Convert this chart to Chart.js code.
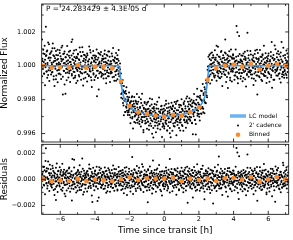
<!DOCTYPE html>
<html lang="en">
<head>
<meta charset="UTF-8">
<title>Transit light curve</title>
<style>
  html, body { margin: 0; padding: 0; background: #fff; }
  .wrap { position: relative; width: 293px; height: 240px; }
  #fluxChart { position: absolute; left: 0; top: 0; }
  #resChart { position: absolute; left: 0; top: 140px; }
</style>
</head>
<body>
<div class="wrap">
  <canvas id="fluxChart" width="293" height="146"></canvas>
  <canvas id="resChart" width="293" height="100"></canvas>
</div>
<script src="https://cdn.jsdelivr.net/npm/chart.js@4.4.1/dist/chart.umd.min.js"></script>
<script>
// 2' cadence points of the two folded transits: time since mid-transit in units of 0.01 h
const cadenceTime = [
  -705,-703,-700,-698,-695,-693,-690,-688,-685,-683,-680,-678,-675,-673,-670,-668,-665,-663,-660,-658,
  -655,-653,-650,-648,-645,-643,-640,-638,-635,-633,-630,-628,-625,-623,-620,-618,-615,-613,-610,-608,
  -605,-603,-600,-598,-595,-593,-590,-588,-585,-583,-580,-578,-575,-573,-570,-568,-565,-563,-560,-558,
  -555,-553,-550,-548,-545,-543,-540,-538,-535,-533,-530,-528,-525,-523,-520,-518,-515,-513,-510,-508,
  -505,-503,-500,-498,-495,-493,-490,-488,-485,-483,-480,-478,-475,-473,-470,-468,-465,-463,-460,-458,
  -455,-453,-450,-448,-445,-443,-440,-438,-435,-433,-430,-428,-425,-423,-420,-418,-415,-413,-410,-408,
  -405,-403,-400,-398,-395,-393,-390,-388,-385,-383,-380,-378,-375,-373,-370,-368,-365,-363,-360,-358,
  -355,-353,-350,-348,-345,-343,-340,-338,-335,-333,-330,-328,-325,-323,-320,-318,-315,-313,-310,-308,
  -305,-303,-300,-298,-295,-293,-290,-288,-285,-283,-280,-278,-275,-273,-270,-268,-265,-263,-260,-258,
  -255,-253,-250,-248,-245,-243,-240,-238,-235,-233,-230,-228,-225,-223,-220,-218,-215,-213,-210,-208,
  -205,-203,-200,-198,-195,-193,-190,-188,-185,-183,-180,-178,-175,-173,-170,-168,-165,-163,-160,-158,
  -155,-153,-150,-148,-145,-143,-140,-138,-135,-133,-130,-128,-125,-123,-120,-118,-115,-113,-110,-108,
  -105,-103,-100,-98,-95,-93,-90,-88,-85,-83,-80,-78,-75,-73,-70,-68,-65,-63,-60,-58,
  -55,-53,-50,-48,-45,-43,-40,-38,-35,-33,-30,-28,-25,-23,-20,-18,-15,-13,-10,-8,
  -5,-3,0,2,5,7,10,12,15,17,20,22,25,27,30,32,35,37,40,42,
  45,47,50,52,55,57,60,62,65,67,70,72,75,77,80,82,85,87,90,92,
  95,97,100,102,105,107,110,112,115,117,120,122,125,127,130,132,135,137,140,142,
  145,147,150,152,155,157,160,162,165,167,170,172,175,177,180,182,185,187,190,192,
  195,197,200,202,205,207,210,212,215,217,220,222,225,227,230,232,235,237,240,242,
  245,247,250,252,255,257,260,262,265,267,270,272,275,277,280,282,285,287,290,292,
  295,297,300,302,305,307,310,312,315,317,320,322,325,327,330,332,335,337,340,342,
  345,347,350,352,355,357,360,362,365,367,370,372,375,377,380,382,385,387,390,392,
  395,397,400,402,405,407,410,412,415,417,420,422,425,427,430,432,435,437,440,442,
  445,447,450,452,455,457,460,462,465,467,470,472,475,477,480,482,485,487,490,492,
  495,497,500,502,505,507,510,512,515,517,520,522,525,527,530,532,535,537,540,542,
  545,547,550,552,555,557,560,562,565,567,570,572,575,577,580,582,585,587,590,592,
  595,597,600,602,605,607,610,612,615,617,620,622,625,627,630,632,635,637,640,642,
  645,647,650,652,655,657,660,662,665,667,670,672,675,677,680,682,685,687,690,692,
  695,697,700,702,705,707,710,712,715
];
// normalized flux - 1, first transit, in units of 1e-5
const cadenceFlux1 = [
  155,28,-19,73,4,-46,118,36,-8,231,62,-33,91,17,-55,44,128,-12,70,-27,
  48,-15,86,9,-37,132,21,-61,57,103,-4,30,-80,64,12,-28,95,40,-47,19,
  -23,75,11,-52,42,108,-9,36,-170,69,15,-31,84,2,-165,51,-18,27,117,-40,
  33,-11,60,-44,22,89,-26,7,141,-58,38,-6,73,-35,16,52,-69,28,-14,95,
  -8,46,-30,67,13,-54,35,-17,82,4,-42,58,-21,110,-3,29,-76,41,-12,63,
  19,-37,54,-9,72,-48,26,8,-61,39,-19,93,-33,14,-85,47,2,-26,61,-44,
  31,-13,48,-66,20,57,-4,-180,36,-29,75,11,-45,24,-8,66,-39,13,-57,42,
  -15,38,-51,22,69,-27,5,44,-73,16,-38,60,-10,31,-62,85,-20,9,-46,27,
  12,-41,57,-18,34,-7,-64,26,48,-33,15,-88,40,-23,62,3,-49,30,-30,-40,
  -20,-91,-45,-166,-118,-102,-195,-145,-235,-120,-207,-161,-273,-198,-165,-248,-227,-183,-276,-206,
  -273,-186,-254,-216,-306,-239,-209,-276,-180,-302,-242,-266,-224,-332,-240,-293,-207,-280,-223,-320,
  -246,-316,-212,-290,-269,-343,-243,-286,-197,-315,-267,-334,-234,-303,-392,-254,-287,-219,-325,-269,
  -338,-268,-314,-218,-294,-330,-254,-378,-278,-237,-310,-264,-355,-285,-197,-327,-271,-424,-253,-309,
  -265,-354,-282,-319,-230,-336,-287,-371,-253,-308,-270,-345,-451,-278,-327,-239,-303,-258,-360,-275,
  -316,-253,-359,-287,-262,-325,-225,-343,-294,-382,-270,-311,-246,-334,-277,-367,-289,-422,-251,-319,
  -255,-308,-234,-341,-268,-299,-358,-251,-279,-325,-213,-316,-286,-350,-262,-303,-230,-335,-275,-382,
  -315,-235,-301,-253,-356,-265,-289,-219,-322,-271,-333,-252,-298,-193,-322,-270,-340,-241,-284,-227,
  -254,-316,-210,-278,-304,-241,-337,-221,-261,-285,-206,-274,-221,-319,-247,-406,-230,-259,-182,-282,
  -218,-284,-228,-301,-189,-241,-197,-281,-203,-149,-243,-206,-253,-162,-205,-126,-217,-155,-221,-103,
  -175,-87,-98,-4,-67,-3,64,-29,8,-51,33,-7,78,-42,15,-24,49,-60,3,37,
  -22,47,-9,118,-38,26,-61,14,55,-30,7,-74,39,-16,88,-47,21,-3,62,-35,
  16,-50,35,155,73,-27,8,-66,44,20,-39,57,-8,31,-85,12,96,-23,49,-14,
  -31,62,-18,41,-57,7,28,-40,54,235,-36,198,-75,22,24,-44,69,-20,37,-62,
  27,-43,14,59,-25,-70,38,-6,83,-31,45,-18,7,-54,195,21,-37,62,-10,33,
  -40,18,67,-29,6,-52,31,-13,49,-77,24,-4,90,-36,11,-58,40,-170,75,-9,
  35,-62,12,-27,54,-8,-45,29,-90,63,-16,38,-55,8,-31,46,-60,17,-23,52,
  -14,41,-36,72,9,-48,25,-3,57,-68,140,-25,44,-11,-82,33,6,120,-39,15,
  22,-30,51,-17,-59,36,4,68,-44,13,-23,79,-6,140,-50,27,-35,60,-12,-71,
  -25,46,-8,33,-54,19,72,-37,10
];
// normalized flux - 1, second transit, in units of 1e-5
const cadenceFlux2 = [
  -62,41,-8,95,23,-47,70,-115,12,58,-33,84,-71,5,137,-26,49,-90,31,-14,
  77,-52,18,-39,104,-6,63,-81,29,-120,45,-17,88,-58,11,36,-97,62,-24,9,
  -45,92,-13,56,-78,27,-3,119,-64,38,-29,73,-110,16,51,-42,6,-86,67,-21,
  14,-69,83,-31,47,-95,22,-7,61,-48,156,-18,35,-74,90,-37,8,-59,44,-101,
  53,-24,-88,71,-12,39,-63,108,-35,19,-82,57,-5,-46,81,-117,28,66,-40,3,
  -71,35,49,-19,-93,62,-8,27,-56,114,-30,-4,79,-67,21,-125,43,-15,88,-52,
  24,-84,61,-11,37,-58,96,-29,5,-72,48,-140,17,69,-36,-9,82,-64,30,-47,
  58,-17,-75,43,-6,91,-49,22,-103,66,-28,13,-61,85,-42,7,54,-96,26,-33,
  -39,72,-21,-67,105,-14,33,-88,49,-3,-55,76,-31,18,-79,40,-12,94,-62,-7,
  13,-101,-82,-188,-83,-159,-84,-219,-154,-292,-154,-202,-273,-149,-240,-126,-266,-210,-291,-197,
  -263,-157,-291,-226,-340,-211,-252,-186,-311,-232,-370,-210,-275,-184,-299,-254,-337,-212,-287,-167,
  -225,-337,-260,-304,-186,-328,-249,-286,-359,-219,-303,-165,-324,-276,-379,-248,-302,-214,-341,-256,
  -300,-229,-372,-256,-329,-213,-296,-353,-269,-193,-341,-277,-321,-228,-401,-251,-296,-368,-243,-316,
  -225,-334,-277,-392,-252,-308,-213,-353,-290,-327,-187,-342,-271,-376,-259,-315,-236,-420,-283,-341,
  -350,-270,-371,-235,-306,-337,-206,-323,-249,-382,-281,-355,-223,-310,-264,-398,-242,-332,-289,-218,
  -256,-384,-241,-309,-356,-269,-214,-337,-300,-225,-410,-262,-331,-207,-313,-288,-368,-245,-322,-231,
  -335,-273,-198,-349,-257,-290,-383,-227,-317,-210,-299,-239,-366,-269,-330,-181,-304,-213,-316,-258,
  -191,-301,-325,-232,-280,-201,-340,-241,-404,-215,-298,-167,-274,-320,-226,-344,-201,-260,-136,-295,
  -265,-183,-285,-230,-323,-177,-254,-148,-283,-206,-250,-107,-275,-172,-200,-280,-138,-216,-86,-157,
  -101,-186,-23,-95,54,-33,-61,40,-105,73,-27,11,-84,48,-2,63,-47,21,-69,92,
  -58,34,-13,-89,66,-30,112,-46,18,-71,52,-9,-37,81,-64,25,-120,44,-19,7,
  48,-22,79,-55,13,-96,37,-4,64,-131,29,-47,86,-17,-70,55,-33,8,-92,41,
  -35,68,-16,44,-83,22,-58,97,-11,31,-66,12,-103,58,-24,176,-41,19,-77,33,
  61,-43,25,-91,7,72,-37,-10,53,-79,34,-122,16,-48,89,-20,45,-65,3,-31,
  -26,87,-52,18,-73,39,-8,61,-114,27,-45,70,-19,-88,46,-4,95,-57,23,-36,
  43,-11,-68,93,-34,15,-82,52,-25,68,-49,7,118,-60,21,-38,74,-14,-101,30,
  -71,26,59,-43,8,-94,35,-17,81,-56,12,-129,47,-31,64,-6,-83,40,-23,98,
  18,-57,73,-24,-9,86,-48,31,-76,14,55,-99,37,-12,-65,22,-40,107,-54,9,
  -30,64,-46,12,90,-71,27,-15,52
];
// residuals, first transit, in units of 1e-5
const cadenceResid1 = [
  34,-12,58,7,-41,96,22,-5,140,238,-28,63,15,-49,81,3,-17,44,112,-36,
  -22,47,11,-63,29,85,-8,-35,52,18,-74,6,-158,-15,121,-47,24,-3,66,-29,
  13,-56,38,-9,72,-31,4,-88,27,55,-19,41,-44,9,-130,33,61,-12,-37,18,
  46,-25,7,90,-52,21,-6,34,-71,-162,12,-40,27,-18,149,-33,5,43,-62,16,
  -9,31,-47,64,2,-28,53,-81,19,37,-14,-55,8,160,-36,25,-3,-98,44,11,
  28,-42,15,-7,61,-23,39,-66,4,83,-31,12,-50,27,-12,56,-174,20,-38,9,
  -17,45,-29,68,6,-53,30,-8,-167,41,14,-35,93,-21,2,49,-60,18,-44,35,
  7,-38,54,-15,26,-70,11,62,-27,-4,38,-91,23,-46,15,71,-19,-2,44,-58,
  21,-33,5,47,-64,18,-11,79,-40,30,-6,-52,36,12,-85,24,-29,58,-7,-43,
  39,-14,66,-48,9,27,-75,52,-22,4,-37,88,-9,31,-58,16,-120,43,-26,13,
  -31,57,-10,24,-67,40,3,-45,170,-19,35,-6,-53,14,71,-28,6,-90,47,-16,
  22,-40,11,63,-25,-8,48,-71,30,-13,55,-34,2,96,-47,19,-22,38,-60,8,
  -14,34,-57,25,-175,69,-36,12,-82,44,7,-28,51,-19,-66,28,143,-41,17,-9,
  36,-22,5,-49,74,-11,27,-63,16,41,-35,-4,58,-26,9,-92,33,-15,62,-40,
  18,-30,47,-8,-56,29,-17,65,3,-44,22,-71,38,12,-25,155,-36,7,-13,50,
  -27,14,-52,39,6,-19,73,-45,26,-3,-60,35,-11,58,-38,20,-84,9,46,-23,
  31,-48,10,-15,62,-33,24,-70,5,43,-21,88,-54,16,-6,37,-180,28,-12,57,
  -19,40,-64,13,27,-37,-2,71,-28,50,-46,19,-10,65,-57,8,33,-24,-80,42,
  15,-26,53,-41,2,36,-68,24,-13,79,-32,11,-50,45,-17,-153,30,-7,62,-39,
  -8,47,-33,21,-58,34,6,-76,42,-20,14,-47,68,-29,3,-185,39,-12,25,-61,
  26,-15,-49,58,9,-37,31,-5,175,-52,17,-28,45,-70,12,-2,63,-41,20,-11,
  -35,52,-18,7,-62,29,41,-24,-6,85,-48,15,-31,60,3,-77,37,-14,48,-27,
  11,-43,66,-20,32,-9,-55,18,33,240,-36,205,-12,44,-150,25,-4,51,-30,8,
  -22,39,-58,14,-31,47,-6,-73,28,-15,61,-44,9,35,190,-89,20,-26,56,-3,
  33,-51,18,-8,70,-37,4,44,-63,25,-19,82,-41,12,-28,54,-7,-165,38,-16,
  -40,16,-24,63,-11,-56,32,7,-79,48,-33,21,-3,67,-50,14,-18,41,-114,29,
  8,-34,57,-21,36,-65,13,-7,49,-42,25,-12,78,-30,6,-53,40,-17,-172,22,
  -13,44,-29,68,-46,19,-4,-71,35,9,-38,58,-20,27,-61,15,127,-33,51,-9,
  24,-47,38,-16,71,-5,-40,30,-23
];
// residuals, second transit, in units of 1e-5
const cadenceResid2 = [
  -62,41,-8,95,23,-47,70,-115,12,58,-33,84,-71,5,137,-26,49,-90,31,-14,
  77,-52,18,-39,104,-6,63,-81,29,-120,45,-17,88,-58,11,36,-97,62,-24,9,
  -45,92,-13,56,-78,27,-3,119,-64,38,-29,73,-110,16,51,-42,6,-86,67,-21,
  14,-69,83,-31,47,-95,22,-7,61,-48,156,-18,35,-74,90,-37,8,-59,44,-101,
  53,-24,-88,71,-12,39,-63,108,-35,19,-82,57,-5,-46,81,-117,28,66,-40,3,
  -71,35,49,-19,-93,62,-8,27,-56,114,-30,-4,79,-67,21,-125,43,-15,88,-52,
  24,-84,61,-11,37,-58,96,-29,5,-72,48,-140,17,69,-36,-9,82,-64,30,-47,
  58,-17,-75,43,-6,91,-49,22,-103,66,-28,13,-61,85,-42,7,54,-96,26,-33,
  -39,72,-21,-67,105,-14,33,-88,49,-3,-55,76,-31,18,-79,40,-12,94,-48,21,
  63,-35,8,-82,47,-19,71,-54,26,-107,38,-6,-70,59,-25,92,-44,15,-63,34,
  -28,81,-49,17,-94,36,-2,65,-58,23,-113,48,-15,77,-37,9,-72,54,-20,101,
  45,-66,12,-31,88,-53,27,-9,-81,60,-24,115,-43,6,-97,35,-18,70,-56,29,
  -14,57,-85,32,-41,76,-7,-63,21,98,-50,15,-29,64,-108,42,-3,-74,51,-22,
  71,-38,19,-96,44,-12,83,-57,6,-31,109,-46,25,-80,37,-19,60,-124,13,-45,
  -53,27,-74,62,-9,-40,91,-26,48,-85,16,-58,74,-13,33,-101,55,-35,8,79,
  36,-92,51,-17,-64,23,78,-45,-8,67,-118,30,-39,85,-21,4,-76,47,-30,61,
  -47,14,89,-63,28,-5,-99,56,-34,72,-18,41,-86,10,-52,96,-27,63,-41,17,
  82,-29,-54,38,-11,67,-73,25,-140,48,-36,94,-15,-62,31,-88,53,-7,116,-44,
  -19,61,-42,9,-87,55,-24,78,-60,14,-33,103,-70,26,-8,-95,42,-51,69,-12,
  29,-76,57,-35,84,-18,-61,40,-105,73,-27,11,-84,48,-2,63,-47,21,-69,92,
  -58,34,-13,-89,66,-30,112,-46,18,-71,52,-9,-37,81,-64,25,-120,44,-19,7,
  48,-22,79,-55,13,-96,37,-4,64,-131,29,-47,86,-17,-70,55,-33,8,-92,41,
  -35,68,-16,44,-83,22,-58,97,-11,31,-66,12,-103,58,-24,176,-41,19,-77,33,
  61,-43,25,-91,7,72,-37,-10,53,-79,34,-122,16,-48,89,-20,45,-65,3,-31,
  -26,87,-52,18,-73,39,-8,61,-114,27,-45,70,-19,-88,46,-4,95,-57,23,-36,
  43,-11,-68,93,-34,15,-82,52,-25,68,-49,7,118,-60,21,-38,74,-14,-101,30,
  -71,26,59,-43,8,-94,35,-17,81,-56,12,-129,47,-31,64,-6,-83,40,-23,98,
  18,-57,73,-24,-9,86,-48,31,-76,14,55,-99,37,-12,-65,22,-40,107,-54,9,
  -30,64,-46,12,90,-71,27,-15,52
];

// binned points (0.5 h bins)
const binTime = [-7,-6.5,-6,-5.5,-5,-4.5,-4,-3.5,-3,-2.5,-2,-1.5,-1,-0.5,0,0.5,1,1.5,2,2.5,3,3.5,4,4.5,5,5.5,6,6.5,7];
const binFlux = [1.00000,0.99987,0.99991,0.99991,1.00005,0.99987,0.99995,0.99995,0.99985,0.99910,
  0.99763,0.99725,0.99716,0.99706,0.99699,0.99710,0.99704,0.99726,0.99755,0.99917,
  0.99986,1.00001,1.00007,0.99995,1.00010,0.99979,1.00000,1.00010,1.00000];
const binResid = [0.00005,-0.00013,-0.00008,-0.00013,0.00005,-0.00013,-0.00002,-0.00008,-0.00013,0.00000,
  0.00018,-0.00005,0.00008,0.00005,0.00005,0.00013,-0.00013,0.00005,-0.00005,0.00005,
  -0.00013,0.00008,0.00010,-0.00002,0.00018,-0.00020,0.00000,0.00018,0.00000];

// LC model
const modelTime = [-7.07,-2.62,-2.55,-2.45,-2.35,-2.2,-2.0,-1.8,-1.5,-1.0,-0.5,0,0.5,1.0,1.5,1.8,2.0,2.2,2.35,2.45,2.53,2.6,7.18];
const modelFlux = [1,1,0.9995,0.9987,0.9982,0.99785,0.99758,0.99743,0.99728,0.99713,0.99705,0.99702,
  0.99705,0.99712,0.99727,0.99742,0.99757,0.99783,0.9982,0.9987,0.9995,1,1];

const xTicks = [-6,-4,-2,0,2,4,6];
const xMinor = [-7,-5,-3,-1,1,3,5,7];
const fluxTicks = [0.996,0.998,1.000,1.002];
const fluxMinor = [0.997,0.999,1.001,1.003];
const residTicks = [-0.002,0,0.002];
const residMinor = [-0.001,0.001];

const FONT = 'DejaVu Sans';
const ORANGE = '#fa8c2c';
const BLUE = '#3b97e8';

function fmt(v, d) {
  return (v < -1e-12 ? '\u2212' : '') + Math.abs(v).toFixed(d);
}

// frame with inward ticks on all four sides
const panelFrame = {
  id: 'panelFrame',
  afterDatasetsDraw(chart, args, opts) {
    const { ctx, chartArea: a, scales } = chart;
    const x = scales.x, y = scales.y;
    ctx.save();
    ctx.strokeStyle = '#000';
    ctx.lineWidth = 0.8;
    const seg = (x1, y1, x2, y2) => { ctx.beginPath(); ctx.moveTo(x1, y1); ctx.lineTo(x2, y2); ctx.stroke(); };
    const xt = (vals, len) => vals.forEach(v => {
      const p = x.getPixelForValue(v);
      seg(p, a.bottom, p, a.bottom - len);
      seg(p, a.top, p, a.top + len);
    });
    const yt = (vals, len) => vals.forEach(v => {
      const p = y.getPixelForValue(v);
      if (p < a.top || p > a.bottom) return;
      seg(a.left, p, a.left + len, p);
      seg(a.right, p, a.right - len, p);
    });
    xt(opts.xMajor, 3.5); xt(opts.xMinor, 2);
    yt(opts.yMajor, 3.5); yt(opts.yMinor, 2);
    ctx.strokeRect(a.left, a.top, a.right - a.left, a.bottom - a.top);
    ctx.restore();
  }
};

// period text and legend in the upper panel
const fluxOverlay = {
  id: 'fluxOverlay',
  afterDraw(chart) {
    const ctx = chart.ctx;
    ctx.save();
    ctx.fillStyle = '#000';
    ctx.textBaseline = 'middle';
    ctx.font = '7.3px "' + FONT + '"';
    ctx.fillText('P = 24.283429 \u00b1 4.3E-05 d', 46, 9);

    ctx.font = '6px "' + FONT + '"';
    ctx.strokeStyle = '#6db3f2';
    ctx.lineWidth = 3.5;
    ctx.beginPath(); ctx.moveTo(230, 116); ctx.lineTo(246, 116); ctx.stroke();
    ctx.beginPath(); ctx.arc(238, 125.6, 1.0, 0, Math.PI * 2); ctx.fill();
    ctx.fillStyle = ORANGE;
    ctx.beginPath(); ctx.arc(238, 134.7, 2.3, 0, Math.PI * 2); ctx.fill();
    ctx.fillStyle = '#000';
    ctx.fillText('LC model', 249, 116);
    ctx.fillText("2' cadence", 249, 125.6);
    ctx.fillText('Binned', 249, 134.7);
    ctx.restore();
  }
};

function yAxis(min, max, ticks, title) {
  return {
    type: 'linear', min: min, max: max,
    afterFit: s => { s.width = 41.7; s.paddingTop = 0; s.paddingBottom = 0; },
    afterBuildTicks: s => { s.ticks = ticks.map(v => ({ value: v })); },
    grid: { display: false, drawTicks: false },
    border: { display: false },
    ticks: { padding: 6, color: '#000', font: { family: FONT, size: 6.5 }, callback: v => fmt(v, 3) },
    title: { display: true, text: title, color: '#000', font: { family: FONT, size: 8.9 }, padding: { top: -0.8, bottom: 0 } }
  };
}

const pts = (vals, off) => cadenceTime.map((t, i) => ({ x: t / 100, y: off + vals[i] * 1e-5 }));
const fluxPts = pts(cadenceFlux1, 1).concat(pts(cadenceFlux2, 1));
const residPts = pts(cadenceResid1, 0).concat(pts(cadenceResid2, 0));

new Chart(document.getElementById('fluxChart'), {
  type: 'scatter',
  data: {
    datasets: [
      { label: 'Binned', data: binTime.map((t, i) => ({ x: t, y: binFlux[i] })),
        backgroundColor: ORANGE, pointRadius: 2.3, borderWidth: 0, order: 0 },
      { label: 'LC model', type: 'line', data: modelTime.map((t, i) => ({ x: t, y: modelFlux[i] })),
        borderColor: BLUE, borderWidth: 1.6, pointRadius: 0, cubicInterpolationMode: 'monotone', fill: false, order: 1 },
      { label: "2' cadence", data: fluxPts, backgroundColor: '#000', pointRadius: 1.0, borderWidth: 0, order: 2 }
    ]
  },
  options: {
    responsive: false, animation: false, events: [],
    layout: { padding: { left: 0, right: 4.3, top: 4, bottom: 1.7 } },
    plugins: {
      legend: { display: false }, tooltip: { enabled: false },
      panelFrame: { xMajor: xTicks, xMinor: xMinor, yMajor: fluxTicks, yMinor: fluxMinor }
    },
    scales: {
      x: { type: 'linear', min: -7.07, max: 7.18, display: false },
      y: yAxis(0.99550, 1.00365, fluxTicks, 'Normalized Flux')
    }
  },
  plugins: [panelFrame, fluxOverlay]
});

new Chart(document.getElementById('resChart'), {
  type: 'scatter',
  data: {
    datasets: [
      { label: 'Binned', data: binTime.map((t, i) => ({ x: t, y: binResid[i] })),
        backgroundColor: ORANGE, pointRadius: 2.3, borderWidth: 0, order: 0 },
      { label: "2' cadence", data: residPts, backgroundColor: '#000', pointRadius: 1.0, borderWidth: 0, order: 1 }
    ]
  },
  options: {
    responsive: false, animation: false, events: [],
    layout: { padding: { left: 0, right: 4.3, top: 4.3, bottom: 0 } },
    plugins: {
      legend: { display: false }, tooltip: { enabled: false },
      panelFrame: { xMajor: xTicks, xMinor: xMinor, yMajor: residTicks, yMinor: residMinor }
    },
    scales: {
      x: {
        type: 'linear', min: -7.07, max: 7.18,
        afterFit: s => { s.height = 25.7; s.paddingLeft = 0; s.paddingRight = 0; },
        afterBuildTicks: s => { s.ticks = xTicks.map(v => ({ value: v })); },
        grid: { display: false, drawTicks: false },
        border: { display: false },
        ticks: { padding: 1.6, color: '#000', autoSkip: false, maxRotation: 0, font: { family: FONT, size: 6.5 }, callback: v => fmt(v, 0) },
        title: { display: true, text: 'Time since transit [h]', color: '#000', font: { family: FONT, size: 8.9 }, padding: { top: 0, bottom: 4.2 } }
      },
      y: yAxis(-0.00268, 0.00268, residTicks, 'Residuals')
    }
  },
  plugins: [panelFrame]
});
</script>
</body>
</html>
